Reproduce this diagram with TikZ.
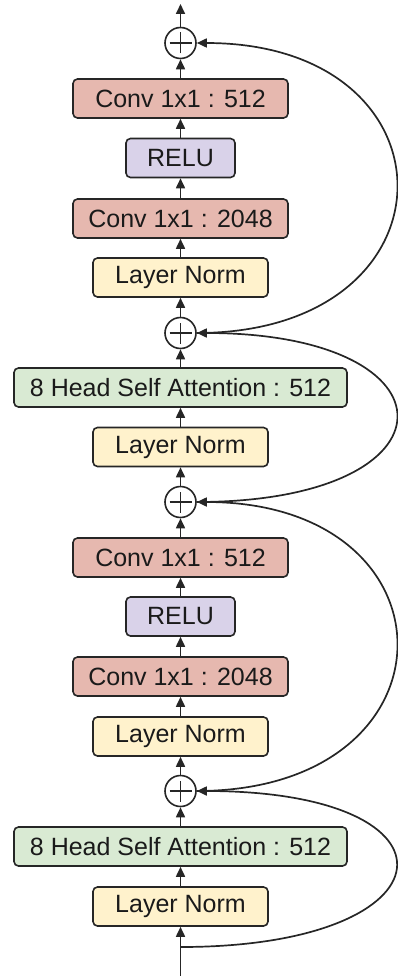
\documentclass[tikz,border=0pt]{standalone}
\usepackage{fontspec}
\setmainfont{Liberation Sans}
\usetikzlibrary{arrows.meta}
\definecolor{convred}{HTML}{E6B8AF}
\definecolor{relupurple}{HTML}{D9D2E9}
\definecolor{normyellow}{HTML}{FFF2CC}
\definecolor{attgreen}{HTML}{D9EAD3}
\definecolor{edge}{HTML}{262626}
\definecolor{ink}{HTML}{1A1A1A}
\begin{document}
\begin{tikzpicture}[x=1pt,y=-1pt,
  blk/.style={draw=edge, line width=1.6pt, rounded corners=4.5pt,
    minimum height=39pt, inner sep=0pt, text=ink,
    font=\fontsize{25}{29}\selectfont},
  conv/.style={blk, fill=convred, minimum width=215pt},
  relu/.style={blk, fill=relupurple, minimum width=109pt},
  lnorm/.style={blk, fill=normyellow, minimum width=175pt},
  att/.style={blk, fill=attgreen, minimum width=333pt},
  sum/.style={circle, draw=edge, line width=1.6pt, minimum size=31pt,
    inner sep=0pt, fill=white,
    path picture={
      \draw[line width=1.9pt, edge]
        ([xshift=-11pt]path picture bounding box.center) --
        ([xshift=11pt]path picture bounding box.center);
      \draw[line width=1.9pt, edge]
        ([yshift=-10.5pt]path picture bounding box.center) --
        ([yshift=10.5pt]path picture bounding box.center);
    }},
  flow/.style={-{Triangle[length=10pt,width=9pt]}, line width=1.7pt, draw=edge}
]
\useasboundingbox (0,0) rectangle (398,976);

% main column, top to bottom
\node[sum]   (sum1)  at (180.5,43)    {};
\node[conv]  (c512a) at (180.5,98.5)  {Conv 1x1 : 512};
\node[relu]  (relua) at (180.5,158)   {RELU};
\node[conv]  (c2kA)  at (180.5,218.5) {Conv 1x1 : 2048};
\node[lnorm] (lna)   at (180.5,277.5) {Layer Norm};
\node[sum]   (sum2)  at (180.5,333)   {};
\node[att]   (atta)  at (180.5,387.5) {8 Head Self Attention : 512};
\node[lnorm] (lnb)   at (180.5,447)   {Layer Norm};
\node[sum]   (sum3)  at (180.5,502)   {};
\node[conv]  (c512b) at (180.5,557.5) {Conv 1x1 : 512};
\node[relu]  (relub) at (180.5,616.5) {RELU};
\node[conv]  (c2kB)  at (180.5,676.5) {Conv 1x1 : 2048};
\node[lnorm] (lnc)   at (180.5,736.5) {Layer Norm};
\node[sum]   (sum4)  at (180.5,791)   {};
\node[att]   (attb)  at (180.5,846.5) {8 Head Self Attention : 512};
\node[lnorm] (lnd)   at (180.5,906.5) {Layer Norm};

\coordinate (out)   at (180.5,4);
\coordinate (in)    at (180.5,976);
\coordinate (split) at (180.5,947);

% forward connections
\draw[flow] (in) -- (lnd);
\draw[flow] (lnd) -- (attb);
\draw[flow] (attb) -- (sum4);
\draw[flow] (sum4) -- (lnc);
\draw[flow] (lnc) -- (c2kB);
\draw[flow] (c2kB) -- (relub);
\draw[flow] (relub) -- (c512b);
\draw[flow] (c512b) -- (sum3);
\draw[flow] (sum3) -- (lnb);
\draw[flow] (lnb) -- (atta);
\draw[flow] (atta) -- (sum2);
\draw[flow] (sum2) -- (lna);
\draw[flow] (lna) -- (c2kA);
\draw[flow] (c2kA) -- (relua);
\draw[flow] (relua) -- (c512a);
\draw[flow] (c512a) -- (sum1);
\draw[flow] (sum1) -- (out);

% residual connections
\draw[flow] (split) .. controls +(276,0) and +(276,0) .. (sum4.east);
\draw[flow] (sum4.east) .. controls +(266,0) and +(266,0) .. (sum3.east);
\draw[flow] (sum3.east) .. controls +(266,0) and +(266,0) .. (sum2.east);
\draw[flow] (sum2.east) .. controls +(266,0) and +(266,0) .. (sum1.east);
\end{tikzpicture}
\end{document}
